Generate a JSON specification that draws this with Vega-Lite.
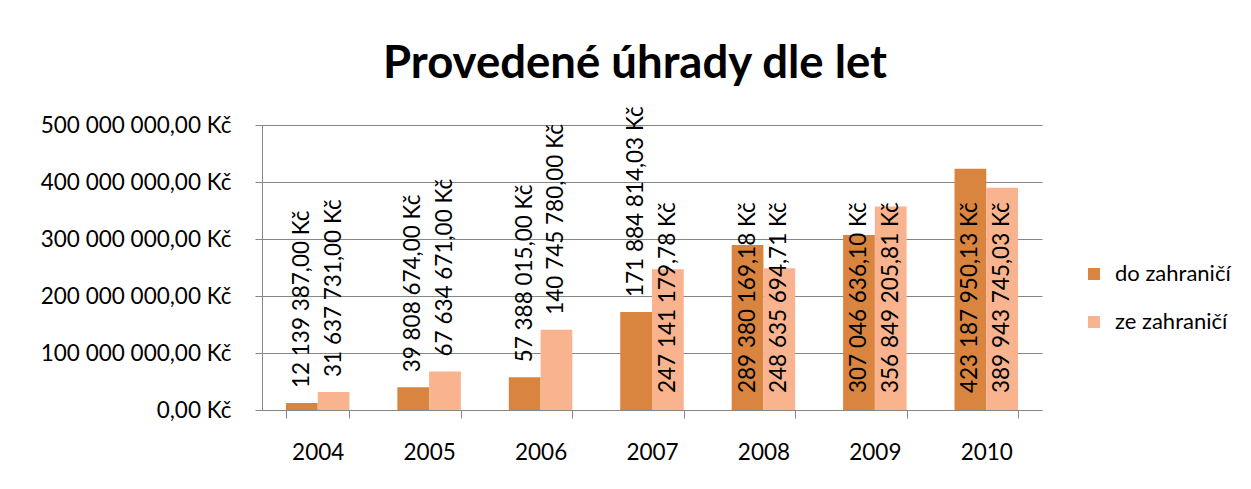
{
  "$schema": "https://vega.github.io/schema/vega-lite/v6.json",
  "autosize": "none",
  "padding": {"left": 262, "top": 125, "right": 209, "bottom": 79},
  "width": 780,
  "height": 285,
  "background": "white",
  "title": {
    "text": "Provedené úhrady dle let",
    "font": "Lato",
    "fontSize": 45.5,
    "fontWeight": "bold",
    "color": "#000000",
    "anchor": "middle",
    "baseline": "alphabetic",
    "dx": -17,
    "offset": -17
  },
  "data": {
    "values": [
      {"rok": "2004", "smer": "do zahraničí", "castka": 12139387.00},
      {"rok": "2004", "smer": "ze zahraničí", "castka": 31637731.00},
      {"rok": "2005", "smer": "do zahraničí", "castka": 39808674.00},
      {"rok": "2005", "smer": "ze zahraničí", "castka": 67634671.00},
      {"rok": "2006", "smer": "do zahraničí", "castka": 57388015.00},
      {"rok": "2006", "smer": "ze zahraničí", "castka": 140745780.00},
      {"rok": "2007", "smer": "do zahraničí", "castka": 171884814.03},
      {"rok": "2007", "smer": "ze zahraničí", "castka": 247141179.78},
      {"rok": "2008", "smer": "do zahraničí", "castka": 289380169.18},
      {"rok": "2008", "smer": "ze zahraničí", "castka": 248635694.71},
      {"rok": "2009", "smer": "do zahraničí", "castka": 307046636.10},
      {"rok": "2009", "smer": "ze zahraničí", "castka": 356849205.81},
      {"rok": "2010", "smer": "do zahraničí", "castka": 423187950.13},
      {"rok": "2010", "smer": "ze zahraničí", "castka": 389943745.03}
    ]
  },
  "encoding": {
    "x": {
      "field": "rok",
      "type": "nominal",
      "scale": {"paddingInner": 0.43, "paddingOuter": 0.215},
      "axis": {
        "title": null,
        "labelAngle": 0,
        "tickBand": "extent",
        "tickSize": 8,
        "labelPadding": 23,
        "grid": false
      }
    },
    "xOffset": {"field": "smer", "type": "nominal", "scale": {"paddingInner": 0, "paddingOuter": 0}}
  },
  "layer": [
    {
      "mark": {"type": "bar"},
      "encoding": {
        "y": {
          "field": "castka",
          "type": "quantitative",
          "scale": {"domain": [0, 500000000], "nice": false},
          "axis": {
            "title": null,
            "values": [0, 100000000, 200000000, 300000000, 400000000, 500000000],
            "format": "$,.2f",
            "tickSize": 7,
            "labelPadding": 24,
            "labelLimit": 400,
            "grid": true
          }
        },
        "color": {
          "field": "smer",
          "type": "nominal",
          "scale": {"domain": ["do zahraničí", "ze zahraničí"], "range": ["#D9843F", "#F9B48F"]},
          "legend": {
            "title": null,
            "orient": "none",
            "legendX": 821,
            "legendY": 138,
            "symbolType": "square",
            "symbolSize": 144,
            "symbolStrokeWidth": 0,
            "labelFont": "Lato",
            "labelFontSize": 22,
            "labelColor": "#000000",
            "labelOffset": 10,
            "rowPadding": 26,
            "padding": 0
          }
        }
      }
    },
    {
      "transform": [{"filter": "datum.castka < 200000000"}],
      "mark": {"type": "text", "angle": 270, "align": "left", "baseline": "middle", "dx": 15, "font": "Lato", "fontSize": 22.5, "color": "#000000"},
      "encoding": {
        "y": {"field": "castka", "type": "quantitative"},
        "text": {"field": "castka", "type": "quantitative", "format": "$,.2f"}
      }
    },
    {
      "transform": [{"filter": "datum.castka >= 200000000"}],
      "mark": {"type": "text", "angle": 270, "align": "left", "baseline": "middle", "dx": 17, "font": "Lato", "fontSize": 22.5, "color": "#000000"},
      "encoding": {
        "y": {"datum": 0, "type": "quantitative"},
        "text": {"field": "castka", "type": "quantitative", "format": "$,.2f"}
      }
    }
  ],
  "config": {
    "locale": {
      "number": {"decimal": ",", "thousands": " ", "grouping": [3], "currency": ["", " Kč"]}
    },
    "view": {"stroke": null},
    "axis": {
      "labelFont": "Lato",
      "labelFontSize": 22.5,
      "labelColor": "#000000",
      "domainColor": "#868686",
      "tickColor": "#868686",
      "gridColor": "#868686",
      "gridWidth": 1,
      "domainWidth": 1
    }
  }
}
